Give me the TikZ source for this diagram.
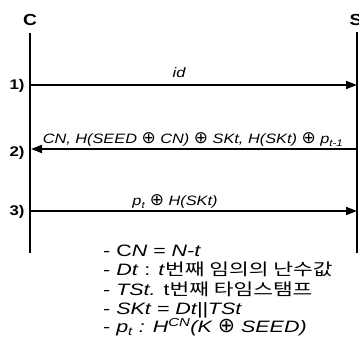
\documentclass[tikz,border=0pt]{standalone}
\usepackage{fontspec}
\setmainfont{Liberation Sans}[FakeStretch=1.2]
\newfontfamily\legfont{Liberation Sans}[FakeStretch=1.3]
\newfontfamily\kr{Noto Sans CJK KR}[FakeStretch=1.3]
\newfontfamily\symfont{DejaVu Sans}
\newcommand{\myxor}{{\symfont\upshape\scalebox{1.25}{⊕}}}
\usetikzlibrary{arrows.meta}
\begin{document}
\begin{tikzpicture}[x=1pt,y=-1pt,
  lifeline/.style={line width=2pt},
  msg/.style={line width=1.8pt,-{Triangle[length=11pt,width=8pt]}},
  actor/.style={font=\bfseries\fontsize{16}{18}\selectfont,inner sep=0pt},
  stepnum/.style={font=\bfseries\fontsize{14}{16}\selectfont,inner sep=0pt},
  lbl/.style={font=\itshape\fontsize{13.6}{16}\selectfont,inner sep=0pt,anchor=base},
  legend/.style={font=\legfont\fontsize{16.5}{18}\selectfont,inner sep=0pt,anchor=base west}]
\useasboundingbox[fill=white] (0,0) rectangle (359,339);
% actors
\node[actor] (C) at (30,20) {C};
\node[actor] (S) at (356,20) {S};
\coordinate (ctop) at (30,33);
\coordinate (cbot) at (30,253);
\coordinate (stop) at (357,32);
\coordinate (sbot) at (357,253);
\draw[lifeline] (ctop) -- (cbot);
\draw[lifeline] (stop) -- (sbot);
% message points
\coordinate (c1) at (31,85);
\coordinate (s1) at (357,85);
\coordinate (c2) at (31,149);
\coordinate (s2) at (357,149);
\coordinate (c3) at (31,211);
\coordinate (s3) at (357,211);
\draw[msg] (c1) -- (s1);
\draw[msg] (s2) -- (c2);
\draw[msg] (c3) -- (s3);
% step numbers
\node[stepnum] (n1) at (17,86) {1)};
\node[stepnum] (n2) at (17,153) {2)};
\node[stepnum] (n3) at (17,212) {3)};
% labels
\node[lbl] (m1) at (179,78) {id};
\node[lbl] (m2) at (193,144) {CN, H(SEED \myxor{} CN) \myxor{} SKt, H(SKt) \myxor{} p\textsubscript{t-1}};
\node[lbl] (m3) at (175,206) {p\textsubscript{t} \myxor{} H(SKt)};
% legend
\node[legend] (l1) at (103,257) {- C\textit{N} = \textit{N-t}};
\node[legend] (l2) at (103,276) {- \textit{Dt} : \textit{t}{\kr 번째 임의의 난수값}};
\node[legend] (l3) at (103,295) {- \textit{TSt.} t{\kr 번째 타임스탬프}};
\node[legend] (l4) at (103,314) {- \textit{SKt = Dt||TSt}};
\node[legend] (l5) at (103,333) {- \textit{p\textsubscript{t} : H\textsuperscript{CN}(K \myxor{} SEED)}};
\end{tikzpicture}
\end{document}
